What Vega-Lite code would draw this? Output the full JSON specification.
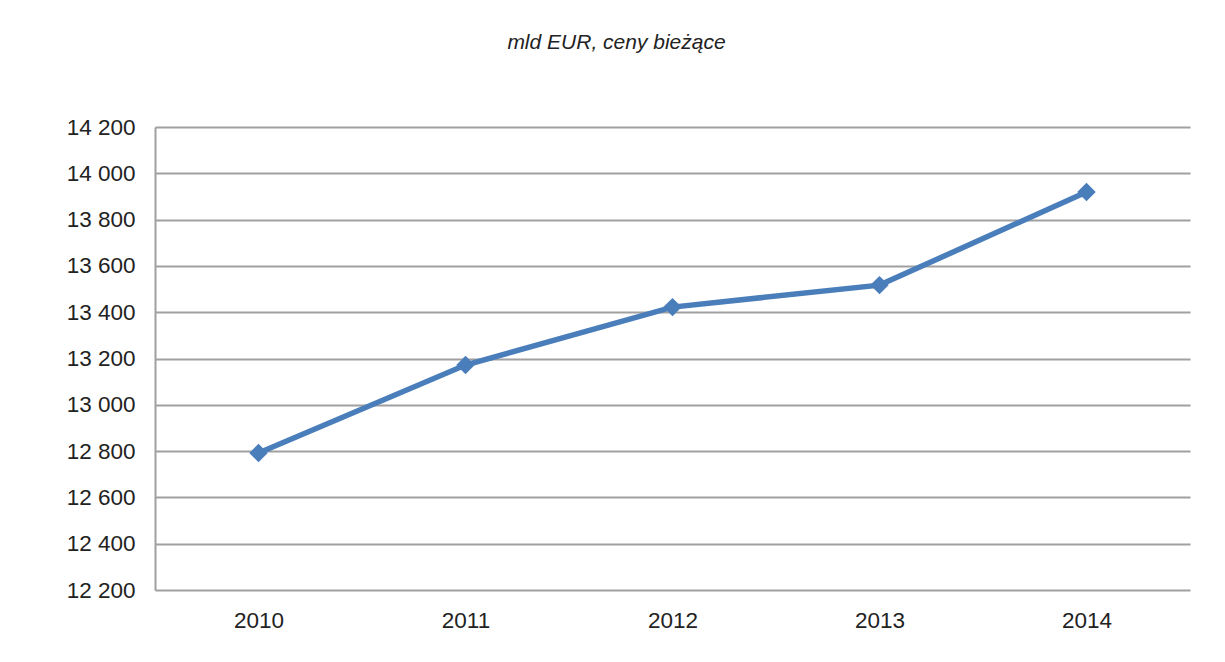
{
  "$schema": "https://vega.github.io/schema/vega-lite/v6.json",
  "autosize": {"type": "none"},
  "width": 1035,
  "height": 463,
  "padding": {"left": 155, "top": 127, "right": 35, "bottom": 72},
  "background": "white",
  "config": {
    "view": {"stroke": null},
    "font": "Liberation Sans"
  },
  "title": {
    "text": "mld EUR, ceny bieżące",
    "fontStyle": "italic",
    "fontWeight": "normal",
    "fontSize": 21,
    "font": "Liberation Sans",
    "color": "#222222",
    "anchor": "middle",
    "dx": -56,
    "offset": 46,
    "baseline": "alphabetic"
  },
  "data": {
    "values": [
      {"year": "2010", "value": 12792},
      {"year": "2011", "value": 13172},
      {"year": "2012", "value": 13422},
      {"year": "2013", "value": 13517},
      {"year": "2014", "value": 13919}
    ]
  },
  "encoding": {
    "x": {
      "field": "year",
      "type": "ordinal",
      "scale": {"type": "point", "padding": 0.5},
      "axis": {
        "title": null,
        "labelAngle": 0,
        "labelFontSize": 22.5,
        "labelColor": "#222222",
        "labelPadding": 19,
        "ticks": false,
        "domain": false,
        "grid": false
      }
    },
    "y": {
      "field": "value",
      "type": "quantitative",
      "scale": {"domain": [12200, 14200], "nice": false, "zero": false},
      "axis": {
        "title": null,
        "values": [12200, 12400, 12600, 12800, 13000, 13200, 13400, 13600, 13800, 14000, 14200],
        "labelExpr": "replace(format(datum.value, ',d'), ',', ' ')",
        "labelFontSize": 22.5,
        "labelColor": "#222222",
        "labelPadding": 20,
        "ticks": false,
        "domain": true,
        "domainColor": "#a0a0a0",
        "domainWidth": 2,
        "grid": true,
        "gridColor": "#a0a0a0",
        "gridWidth": 2,
        "gridOpacity": 1
      }
    }
  },
  "layer": [
    {
      "mark": {"type": "line", "color": "#4a7ebb", "strokeWidth": 5.5}
    },
    {
      "mark": {"type": "point", "shape": "diamond", "filled": true, "color": "#4a7ebb", "opacity": 1, "size": 340}
    }
  ]
}
